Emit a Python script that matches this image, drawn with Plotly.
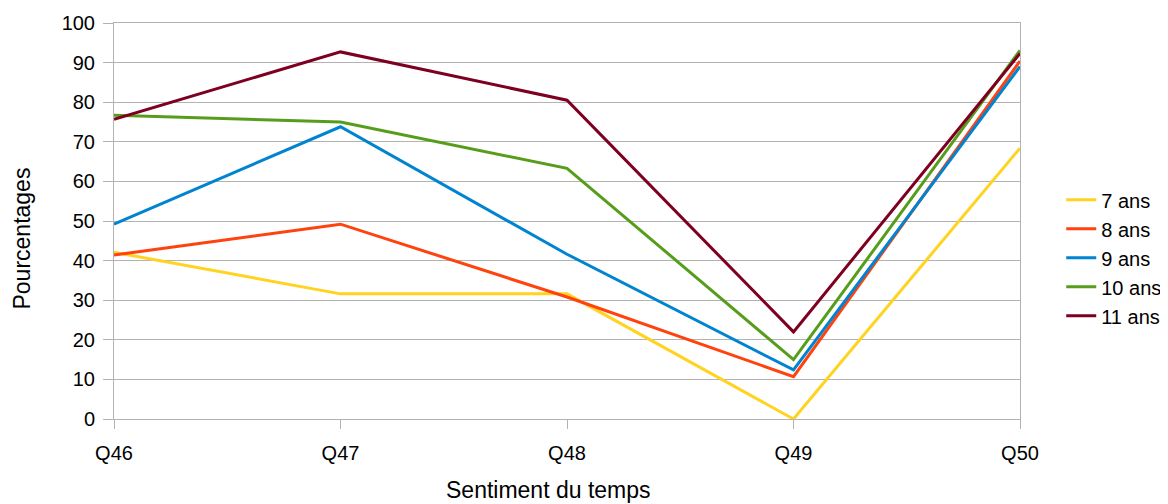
import plotly.graph_objects as go

questions = ["Q46", "Q47", "Q48", "Q49", "Q50"]

ans_7 = [42.1, 31.6, 31.6, 0.0, 68.4]
ans_8 = [41.4, 49.2, 30.8, 10.7, 90.4]
ans_9 = [49.2, 73.8, 41.6, 12.4, 89.0]
ans_10 = [76.7, 75.0, 63.3, 15.0, 93.1]
ans_11 = [75.7, 92.7, 80.5, 22.0, 92.3]

series = [
    ("7 ans", ans_7, "#ffd320"),
    ("8 ans", ans_8, "#ff420e"),
    ("9 ans", ans_9, "#0084d1"),
    ("10 ans", ans_10, "#579d1c"),
    ("11 ans", ans_11, "#7e0021"),
]

fig = go.Figure()
for name, vals, color in series:
    fig.add_trace(
        go.Scatter(
            x=questions,
            y=vals,
            name=name,
            mode="lines",
            line=dict(color=color, width=3),
        )
    )

# the page body keeps its 8px margin, so the figure is a bit smaller than the window
fig.update_layout(
    width=1160,
    height=496,
    margin=dict(l=106, r=148, t=15, b=85, autoexpand=False),
    paper_bgcolor="white",
    plot_bgcolor="white",
    font=dict(family="Liberation Sans, Arial, sans-serif", size=20, color="black"),
    legend=dict(
        x=1.0455,
        xanchor="left",
        y=0.407,
        yanchor="middle",
        font=dict(size=20),
        itemwidth=30,
    ),
)

# axis titles as annotations, placed like the original (not centred on the axes)
fig.add_annotation(
    text="Sentiment du temps",
    xref="paper", yref="paper",
    x=0.48, y=-0.179,
    xanchor="center", yanchor="middle",
    showarrow=False,
    font=dict(size=23),
)
fig.add_annotation(
    text="Pourcentages",
    xref="paper", yref="paper",
    x=-0.101, y=0.457,
    xanchor="center", yanchor="middle",
    textangle=-90,
    showarrow=False,
    font=dict(size=23),
)

fig.update_xaxes(
    type="category",
    range=[0, 4],
    automargin=False,
    showgrid=False,
    showline=True,
    linecolor="#b3b3b3",
    linewidth=1,
    mirror=True,
    ticks="outside",
    ticklen=9,
    tickcolor="#b3b3b3",
    ticklabelstandoff=7,
)
fig.update_yaxes(
    range=[0, 100],
    dtick=10,
    automargin=False,
    showgrid=True,
    gridcolor="#b3b3b3",
    gridwidth=1,
    showline=True,
    linecolor="#b3b3b3",
    linewidth=1,
    mirror=True,
    ticks="outside",
    ticklen=10,
    tickcolor="#b3b3b3",
    ticklabelstandoff=4,
    zeroline=False,
)

fig.write_html("out.html")
